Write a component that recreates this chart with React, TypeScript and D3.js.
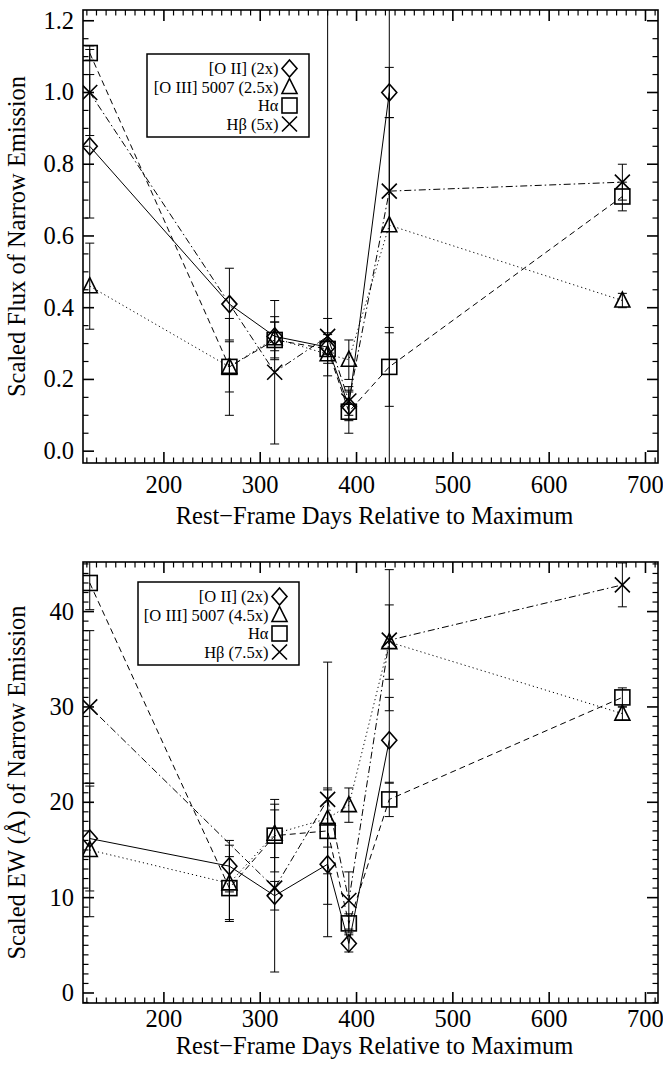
import React from "react";
import * as d3 from "d3";

// ---------- data ----------
const days = [123, 268, 315, 370, 392, 434, 676];

// Top panel: scaled flux
const fluxOII = [0.85, 0.41, 0.32, 0.29, 0.125, 1.0, null];
const fluxOIIErr = [0.2, 0.1, 0.04, 2.0, 0.04, 0.07, null];
const fluxOIII = [0.46, 0.235, 0.315, 0.27, 0.255, 0.63, 0.42];
const fluxOIIIErr = [0.12, 0.07, 0.06, 0.06, 0.055, 0.3, 0.02];
const fluxHa = [1.11, 0.235, 0.31, 0.285, 0.11, 0.235, 0.71];
const fluxHaErr = [0.02, 0.135, 0.05, 0.04, 0.06, 0.11, 0.04];
const fluxHb = [1.0, null, 0.22, 0.32, 0.14, 0.725, 0.75];
const fluxHbErr = [0.12, null, 0.2, 0.05, 0.04, 1.5, 0.05];

// Bottom panel: scaled EW
const ewOII = [16.2, 13.3, 10.2, 13.5, 5.2, 26.5, null];
const ewOIIErr = [5.5, 2.7, 1.5, 4.2, 0.9, 4.5, null];
const ewOIII = [15, 11.5, 16.7, 18.3, 19.7, 36.8, 29.3];
const ewOIIIErr = [7, 4, 2.5, 3, 1.8, 3.9, 0.7];
const ewHa = [43, 11, 16.5, 17, 7.3, 20.3, 31];
const ewHaErr = [2.8, 3.3, 3.8, 4.5, 1, 1.8, 1];
const ewHb = [30, null, 11, 20.3, 9.7, 37, 42.8];
const ewHbErr = [8, null, 8.8, 14.4, 3, 7.4, 2.3];

const topLegend = ["[O II] (2x)", "[O III] 5007 (2.5x)", "H\u03b1", "H\u03b2 (5x)"];
const bottomLegend = ["[O II] (2x)", "[O III] 5007 (4.5x)", "H\u03b1", "H\u03b2 (7.5x)"];
const xMajor = [200, 300, 400, 500, 600, 700];
const topYMajor = [0.0, 0.2, 0.4, 0.6, 0.8, 1.0, 1.2];
const bottomYMajor = [0, 10, 20, 30, 40];
const xTitle = "Rest\u2212Frame Days Relative to Maximum";
const topYTitle = "Scaled Flux of Narrow Emission";
const bottomYTitle = "Scaled EW (\u00c5) of Narrow Emission";

const markers = ["diamond", "triangle", "square", "cross"];
const dashes = [null, "1.2,3", "6,4", "7,3,1.5,3"];

const FONT = "'Liberation Serif', 'Times New Roman', serif";
const W = 663;
const H = 1068;
const LEFT = 83;
const RIGHT = 658;

function Marker({ kind, x, y }: { kind: string; x: number; y: number }) {
  const s = 7.5;
  const common = { fill: "none", stroke: "#000", strokeWidth: 1.6 };
  if (kind === "diamond")
    return <path d={`M${x},${y - s - 1}L${x + s},${y}L${x},${y + s + 1}L${x - s},${y}Z`} {...common} />;
  if (kind === "triangle")
    return <path d={`M${x},${y - s - 1}L${x + s},${y + s - 1}L${x - s},${y + s - 1}Z`} {...common} />;
  if (kind === "square")
    return <rect x={x - s} y={y - s} width={2 * s} height={2 * s} {...common} />;
  return <path d={`M${x - s},${y - s}L${x + s},${y + s}M${x - s},${y + s}L${x + s},${y - s}`} {...common} />;
}

function Panel({
  id, top, bottom, yDomain, yMajor, yMinorStep, fmt, series, errs, legend, legendBox, yTitle, labelGap, titleGap,
}: any) {
  const x = d3.scaleLinear().domain([116, 713]).range([LEFT, RIGHT]);
  const y = d3.scaleLinear().domain(yDomain).range([bottom, top]);
  const xMinor = d3.range(120, 713, 10).filter((v) => v % 100 !== 0);
  const yMinor = d3
    .range(Math.ceil(yDomain[0] / yMinorStep) * yMinorStep, yDomain[1], yMinorStep)
    .filter((v) => !yMajor.some((m: number) => Math.abs(m - v) < 1e-6));
  const clipId = `clip-${id}`;
  const cap = 4.5;
  const ax = { stroke: "#000", strokeWidth: 1.6 };
  return (
    <g>
      <defs>
        <clipPath id={clipId}>
          <rect x={LEFT} y={top} width={RIGHT - LEFT} height={bottom - top} />
        </clipPath>
      </defs>
      <g clipPath={`url(#${clipId})`}>
        {series.map((vals: (number | null)[], si: number) => {
          const pts = days
            .map((d, i) => [d, vals[i]] as [number, number | null])
            .filter((p) => p[1] !== null) as [number, number][];
          const line = d3.line<[number, number]>().x((p) => x(p[0])).y((p) => y(p[1]));
          return (
            <path
              key={"l" + si}
              d={line(pts) || ""}
              fill="none"
              stroke="#000"
              strokeWidth={1}
              strokeDasharray={dashes[si] || undefined}
            />
          );
        })}
        {series.map((vals: (number | null)[], si: number) =>
          days.map((d, i) => {
            const v = vals[i];
            const e = errs[si][i];
            if (v === null || e === null) return null;
            const cx = x(d);
            return (
              <g key={`e${si}-${i}`} stroke="#000" strokeWidth={1}>
                <line x1={cx} x2={cx} y1={y(v - e)} y2={y(v + e)} />
                <line x1={cx - cap} x2={cx + cap} y1={y(v - e)} y2={y(v - e)} />
                <line x1={cx - cap} x2={cx + cap} y1={y(v + e)} y2={y(v + e)} />
              </g>
            );
          })
        )}
        {series.map((vals: (number | null)[], si: number) =>
          days.map((d, i) =>
            vals[i] === null ? null : <Marker key={`m${si}-${i}`} kind={markers[si]} x={x(d)} y={y(vals[i] as number)} />
          )
        )}
      </g>
      <rect x={LEFT} y={top} width={RIGHT - LEFT} height={bottom - top} fill="none" {...ax} />
      {xMajor.map((v) => (
        <g key={"xM" + v} {...ax}>
          <line x1={x(v)} x2={x(v)} y1={bottom} y2={bottom - 11} />
          <line x1={x(v)} x2={x(v)} y1={top} y2={top + 11} />
        </g>
      ))}
      {xMinor.map((v) => (
        <g key={"xm" + v} stroke="#000" strokeWidth={1.2}>
          <line x1={x(v)} x2={x(v)} y1={bottom} y2={bottom - 5.5} />
          <line x1={x(v)} x2={x(v)} y1={top} y2={top + 5.5} />
        </g>
      ))}
      {yMajor.map((v: number) => (
        <g key={"yM" + v} {...ax}>
          <line x1={LEFT} x2={LEFT + 11} y1={y(v)} y2={y(v)} />
          <line x1={RIGHT} x2={RIGHT - 11} y1={y(v)} y2={y(v)} />
        </g>
      ))}
      {yMinor.map((v: number) => (
        <g key={"ym" + v} stroke="#000" strokeWidth={1.2}>
          <line x1={LEFT} x2={LEFT + 5.5} y1={y(v)} y2={y(v)} />
          <line x1={RIGHT} x2={RIGHT - 5.5} y1={y(v)} y2={y(v)} />
        </g>
      ))}
      <g fontFamily={FONT} fontSize={24.5} fill="#000">
        {xMajor.map((v) => (
          <text key={"xl" + v} x={x(v)} y={bottom + labelGap} textAnchor="middle">
            {v}
          </text>
        ))}
        {yMajor.map((v: number) => (
          <text key={"yl" + v} x={LEFT - 9} y={y(v) + 8} textAnchor="end">
            {fmt(v)}
          </text>
        ))}
        <text x={(LEFT + RIGHT) / 2 + 4} y={bottom + titleGap} textAnchor="middle">
          {xTitle}
        </text>
        <text transform={`translate(${25},${(top + bottom) / 2}) rotate(-90)`} textAnchor="middle">
          {yTitle}
        </text>
      </g>
      <g>
        <rect
          x={legendBox[0]}
          y={legendBox[1]}
          width={legendBox[2] - legendBox[0]}
          height={legendBox[3] - legendBox[1]}
          fill="#fff"
          stroke="#000"
          strokeWidth={1.5}
        />
        {legend.map((t: string, i: number) => {
          const cy = legendBox[1] + 14.5 + i * 18.5;
          return (
            <g key={"lg" + i}>
              <text x={legendBox[2] - 30.5} y={cy + 5.5} textAnchor="end" fontFamily={FONT} fontSize={16.5}>
                {t}
              </text>
              <Marker kind={markers[i]} x={legendBox[2] - 19.5} y={cy} />
            </g>
          );
        })}
      </g>
    </g>
  );
}

export default function App() {
  return (
    <svg
      width={W}
      height={H}
      style={{ display: "block", position: "absolute", left: 0, top: 0 }}
      viewBox={`0 0 ${W} ${H}`}
    >
      <rect width={W} height={H} fill="#fff" />
      <Panel
        id="top"
        top={10}
        bottom={463}
        yDomain={[-0.033, 1.23]}
        yMajor={topYMajor}
        yMinorStep={0.05}
        fmt={(v: number) => v.toFixed(1)}
        series={[fluxOII, fluxOIII, fluxHa, fluxHb]}
        errs={[fluxOIIErr, fluxOIIIErr, fluxHaErr, fluxHbErr]}
        legend={topLegend}
        legendBox={[147, 54, 309, 137]}
        yTitle={topYTitle}
        labelGap={30}
        titleGap={61}
      />
      <Panel
        id="bot"
        top={562}
        bottom={1003}
        yDomain={[-1.05, 45.2]}
        yMajor={bottomYMajor}
        yMinorStep={1}
        fmt={(v: number) => String(v)}
        series={[ewOII, ewOIII, ewHa, ewHb]}
        errs={[ewOIIErr, ewOIIIErr, ewHaErr, ewHbErr]}
        legend={bottomLegend}
        legendBox={[138, 582, 299, 665]}
        yTitle={bottomYTitle}
        labelGap={24}
        titleGap={51}
      />
    </svg>
  );
}
